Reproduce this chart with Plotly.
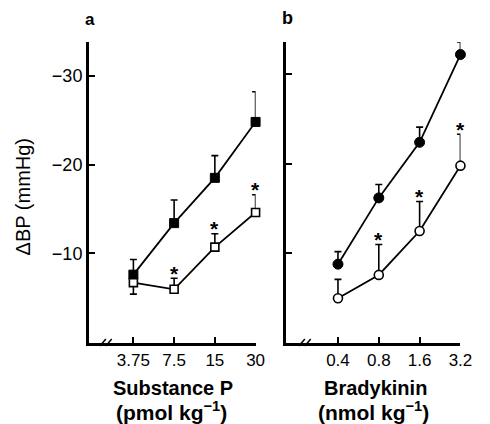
import plotly.graph_objects as go
import math

# ---- data ----
sp_dose = [3.75, 7.5, 15, 30]
sp_ctrl = [-7.6, -13.4, -18.5, -24.8]
sp_ctrl_err_up = [1.7, 2.6, 2.5, 3.4]
sp_treat = [-6.7, -5.95, -10.7, -14.6]
sp_treat_err_up = [0.0, 1.25, 1.5, 2.0]
sp_treat_err_down = [1.3, 0.0, 0.0, 0.0]
sp_sig = [False, True, True, True]
sp_ticklabels = ["3.75", "7.5", "15", "30"]

bk_dose = [0.4, 0.8, 1.6, 3.2]
bk_ctrl = [-8.8, -16.2, -22.4, -32.2]
bk_ctrl_err_up = [1.4, 1.5, 1.7, 1.4]
bk_treat = [-5.0, -7.6, -12.5, -19.8]
bk_treat_err_up = [2.1, 3.4, 3.3, 3.5]
bk_sig = [False, True, True, True]
bk_ticklabels = ["0.4", "0.8", "1.6", "3.2"]

y_tickvals = [-30, -20, -10]
y_ticktext = ["\u221230", "\u221220", "\u221210"]

FONT = "Liberation Sans, Arial, Helvetica, sans-serif"
W, H = 490, 424
T, B = 42, 81
PH = H - T - B


def px_x(p):
    return p / W


def px_y(p):
    return (H - B - p) / PH


fig = go.Figure()


def add_panel(xa, ya, dose, ctrl, ctrl_up, treat, treat_up, treat_down, sym):
    err_common = dict(type="data", symmetric=False, color="black", thickness=1.6, width=3.5)
    fig.add_trace(go.Scatter(
        x=dose, y=ctrl, xaxis=xa, yaxis=ya, mode="lines+markers",
        line=dict(color="black", width=1.8),
        marker=dict(symbol=sym, size=10 if sym == "circle" else 9, color="black",
                    line=dict(color="black", width=1)),
        error_y=dict(array=[0] * len(ctrl), arrayminus=ctrl_up, **err_common),
        cliponaxis=False, showlegend=False))
    fig.add_trace(go.Scatter(
        x=dose, y=treat, xaxis=xa, yaxis=ya, mode="lines+markers",
        line=dict(color="black", width=1.8),
        marker=dict(symbol=sym, size=9 if sym == "circle" else 8, color="white",
                    line=dict(color="black", width=1.6)),
        error_y=dict(array=treat_down, arrayminus=treat_up, **err_common),
        cliponaxis=False, showlegend=False))


add_panel("x", "y", sp_dose, sp_ctrl, sp_ctrl_err_up, sp_treat, sp_treat_err_up,
          sp_treat_err_down, "square")
add_panel("x2", "y2", bk_dose, bk_ctrl, bk_ctrl_err_up, bk_treat, bk_treat_err_up,
          [0] * 4, "circle")

annotations = []
for xr, yr, dose, treat, up, sig in [("x", "y", sp_dose, sp_treat, sp_treat_err_up, sp_sig),
                                     ("x2", "y2", bk_dose, bk_treat, bk_treat_err_up, bk_sig)]:
    for d, v, e, s in zip(dose, treat, up, sig):
        if s:
            annotations.append(dict(
                x=math.log10(d), y=v - e, xref=xr, yref=yr, text="<b>*</b>", showarrow=False,
                xanchor="center", yanchor="middle", yshift=5,
                font=dict(family=FONT, size=21, color="black")))

axis_common = dict(showline=True, linecolor="black", linewidth=2.5, ticks="inside",
                   ticklen=6, tickwidth=1.6, tickcolor="black", showgrid=False,
                   zeroline=False, mirror=False,
                   tickfont=dict(family=FONT, size=17, color="black"))

fig.update_layout(
    width=W, height=H,
    margin=dict(l=0, r=0, t=T, b=B),
    paper_bgcolor="white", plot_bgcolor="white",
    xaxis=dict(domain=[px_x(91), px_x(262)], type="log",
               range=[math.log10(1.755), math.log10(30)],
               tickvals=sp_dose, ticktext=sp_ticklabels, anchor="y", **axis_common),
    xaxis2=dict(domain=[px_x(293), px_x(472)], type="log",
                range=[math.log10(0.165), math.log10(3.2)],
                tickvals=bk_dose, ticktext=bk_ticklabels, anchor="y2", **axis_common),
    yaxis=dict(domain=[0, 1], range=[0.1, -33.8], tickvals=y_tickvals,
               ticktext=y_ticktext, anchor="x", **axis_common),
    yaxis2=dict(domain=[0, 1], range=[0.0, -33.6], tickvals=y_tickvals,
                showticklabels=False, anchor="x2", **axis_common),
)
fig.update_yaxes(tickfont=dict(family=FONT, size=18, color="black"))


def label(xp, yp, text, size, bold=False, angle=0):
    return dict(x=px_x(xp), y=px_y(yp), xref="paper", yref="paper",
                text=f"<b>{text}</b>" if bold else text, textangle=angle,
                xanchor="center", yanchor="middle", showarrow=False,
                font=dict(family=FONT, size=size, color="black"))


annotations += [
    label(92.5, 20, "a", 17, bold=True),
    label(295, 18, "b", 18, bold=True),
    label(24, 197, "\u0394BP (mmHg)", 20, angle=-90),
    label(177, 388, "Substance P", 20, bold=True),
    label(176, 411, "(pmol kg<sup>\u22121</sup>)", 21, bold=True),
    label(385, 388, "Bradykinin", 20, bold=True),
    label(383, 411, "(nmol kg<sup>\u22121</sup>)", 21, bold=True),
]

shapes = []
for cx in (108.5, 312.5):
    for off in (-3, 3):
        shapes.append(dict(type="line", xref="paper", yref="paper",
                           x0=px_x(cx + off - 3), y0=px_y(346),
                           x1=px_x(cx + off + 3), y1=px_y(339),
                           line=dict(color="black", width=1.5)))

fig.update_layout(annotations=annotations, shapes=shapes)
fig.write_html(
    "out.html",
    config={"displayModeBar": False},
    post_script="document.body.style.margin='0';document.body.style.overflow='hidden';",
)
